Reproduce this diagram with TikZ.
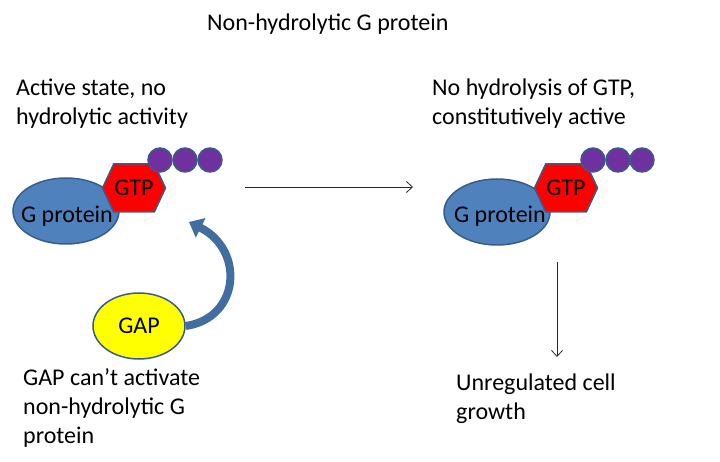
\documentclass[tikz,border=0pt]{standalone}
\usepackage{fontspec}
\setmainfont{Carlito}
\usepackage{tikz}
\usetikzlibrary{shapes.geometric, shapes.symbols, arrows.meta, positioning}
\definecolor{GBlue}{RGB}{79, 129, 189}
\definecolor{GBorder}{RGB}{56, 93, 138}
\definecolor{GRed}{RGB}{255, 0, 0}
\definecolor{GPurple}{RGB}{112, 48, 160}
\definecolor{GYellow}{RGB}{255, 255, 0}
\definecolor{GLine}{RGB}{40, 40, 40}

\tikzset{
  lbl/.style={anchor=base west, align=left, inner sep=0pt, font=\fontsize{24}{29}\selectfont},
  gprot/.style={ellipse, draw=GBorder, fill=GBlue, line width=1.5pt,
                minimum width=106pt, minimum height=66pt},
  gtp/.style={signal, signal to=west and east, signal pointer angle=130,
              draw=GBorder, fill=GRed, line width=1.5pt, inner sep=0pt,
              minimum width=63pt, minimum height=48pt, font=\fontsize{24}{29}\selectfont},
  phos/.style={circle, draw=GBorder, fill=GPurple, line width=1.5pt,
               minimum size=24pt, inner sep=0pt},
  gap/.style={ellipse, draw=GBorder, fill=GYellow, line width=1.5pt,
              minimum width=92pt, minimum height=66pt, font=\fontsize{24}{29}\selectfont},
  thinarrow/.style={GLine, line width=0.8pt, -{Straight Barb[length=6pt, width=11pt]}},
  bigarrow/.style={GBorder!55!GBlue, line width=8pt, -{Triangle[length=13pt, width=21pt]}}
}

\begin{document}
\begin{tikzpicture}[x=1pt,y=-1pt]
  \path[use as bounding box] (0,0) rectangle (720,462);

  \node[lbl] (title) at (207,31) {Non-hydrolytic G protein};

  % left: active G protein
  \node[lbl] (leftTop) at (16,125) {Active state, no\\hydrolytic activity};
  \node[gprot] (gprotL) at (66,211) {};
  \node[gtp] (gtpL) at (134,188) {GTP};
  \foreach \i/\x in {1/160, 2/185, 3/210}
    \node[phos] (pL\i) at (\x,160) {};
  \node[font=\fontsize{24}{29}\selectfont, inner sep=0pt] (gtxtL) at (67,216) {G protein};

  % GAP
  \node[gap] (gapL) at (139,326) {GAP};
  \coordinate (gapTip) at (189,222);
  \draw[bigarrow] (gapL.east) .. controls (240,318) and (245,250) .. (gapTip);
  \node[lbl] (leftBot) at (23,443) {GAP can’t activate\\non-hydrolytic G\\protein};

  % transition
  \coordinate (midA) at (245,187);
  \coordinate (midB) at (413,187);
  \draw[thinarrow] (midA) -- (midB);

  % right: constitutively active
  \node[lbl] (rightTop) at (432,125) {No hydrolysis of GTP,\\constitutively active};
  \node[gprot] (gprotR) at (497,212) {};
  \node[gtp] (gtpR) at (566,188) {GTP};
  \foreach \i/\x in {1/593, 2/618, 3/642}
    \node[phos] (pR\i) at (\x,160) {};
  \node[font=\fontsize{24}{29}\selectfont, inner sep=0pt] (gtxtR) at (500,216) {G protein};

  % outcome
  \coordinate (downA) at (557,262);
  \coordinate (downB) at (557,357);
  \draw[thinarrow] (downA) -- (downB);
  \node[lbl] (rightBot) at (456,419) {Unregulated cell\\growth};
\end{tikzpicture}
\end{document}
